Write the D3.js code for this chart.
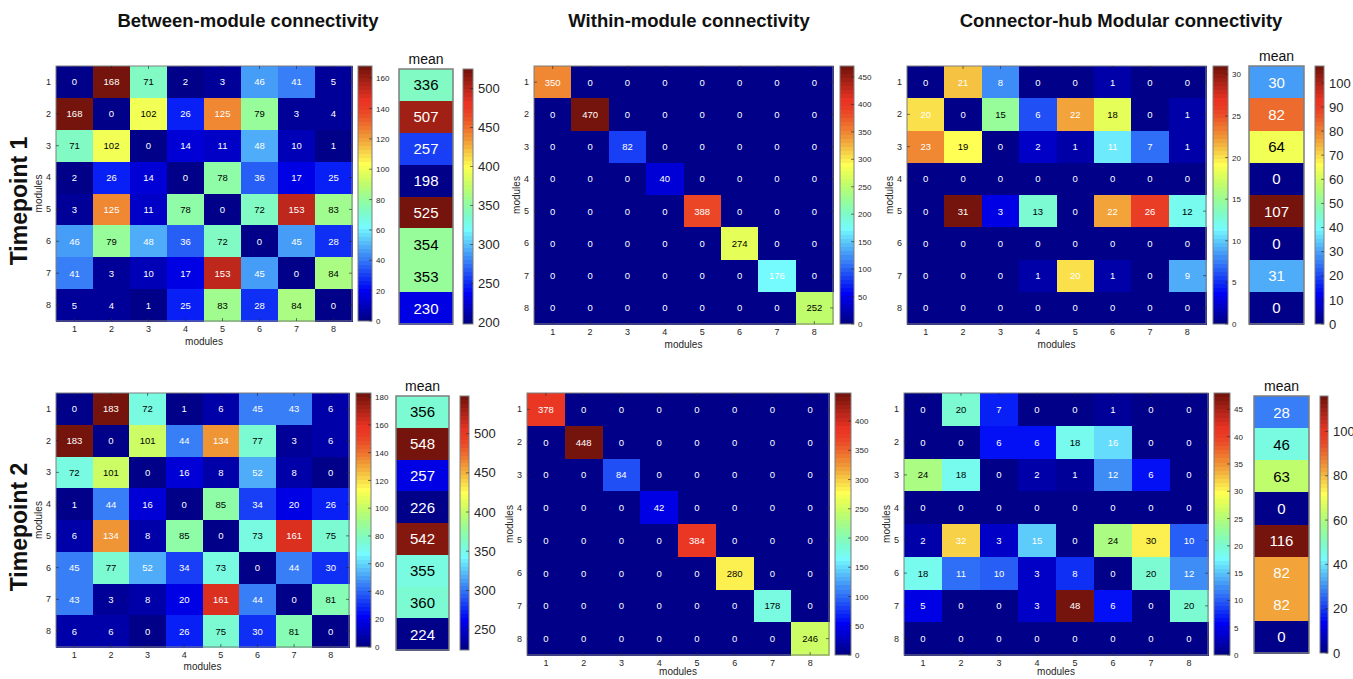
<!DOCTYPE html>
<html><head><meta charset="utf-8">
<script src="https://cdn.jsdelivr.net/npm/d3@7"></script>
<style>
body{margin:0;background:#fff;}
svg{display:block;font-family:"Liberation Sans",Arial,Helvetica,sans-serif;}
</style></head>
<body><svg id="chart" width="1353" height="679"></svg>
<script>
const modules = [1,2,3,4,5,6,7,8];

const betweenT1 = [
  [0,168,71,2,3,46,41,5],
  [168,0,102,26,125,79,3,4],
  [71,102,0,14,11,48,10,1],
  [2,26,14,0,78,36,17,25],
  [3,125,11,78,0,72,153,83],
  [46,79,48,36,72,0,45,28],
  [41,3,10,17,153,45,0,84],
  [5,4,1,25,83,28,84,0]
];
const betweenT2 = [
  [0,183,72,1,6,45,43,6],
  [183,0,101,44,134,77,3,6],
  [72,101,0,16,8,52,8,0],
  [1,44,16,0,85,34,20,26],
  [6,134,8,85,0,73,161,75],
  [45,77,52,34,73,0,44,30],
  [43,3,8,20,161,44,0,81],
  [6,6,0,26,75,30,81,0]
];
const withinDiagT1 = [350,470,82,40,388,274,176,252];
const withinDiagT2 = [378,448,84,42,384,280,178,246];
const connT1 = [
  [0,21,8,0,0,1,0,0],
  [20,0,15,6,22,18,0,1],
  [23,19,0,2,1,11,7,1],
  [0,0,0,0,0,0,0,0],
  [0,31,3,13,0,22,26,12],
  [0,0,0,0,0,0,0,0],
  [0,0,0,1,20,1,0,9],
  [0,0,0,0,0,0,0,0]
];
const connT2 = [
  [0,20,7,0,0,1,0,0],
  [0,0,6,6,18,16,0,0],
  [24,18,0,2,1,12,6,0],
  [0,0,0,0,0,0,0,0],
  [2,32,3,15,0,24,30,10],
  [18,11,10,3,8,0,20,12],
  [5,0,0,3,48,6,0,20],
  [0,0,0,0,0,0,0,0]
];
const meanBetweenT1 = [336,507,257,198,525,354,353,230];
const meanBetweenT2 = [356,548,257,226,542,355,360,224];
const meanConnT1 = [30,82,64,0,107,0,31,0];
const meanConnT2 = [28,46,63,0,116,82,82,0];

const ticksBetweenT1 = [0,20,40,60,80,100,120,140,160];
const ticksBetweenT2 = [0,20,40,60,80,100,120,140,160,180];
const ticksWithinT1 = [0,50,100,150,200,250,300,350,400,450];
const ticksWithinT2 = [0,50,100,150,200,250,300,350,400];
const ticksConnT1 = [0,5,10,15,20,25,30];
const ticksConnT2 = [0,5,10,15,20,25,30,35,40,45];
const ticksMeanBetweenT1 = [200,250,300,350,400,450,500];
const ticksMeanBetweenT2 = [250,300,350,400,450,500];
const ticksMeanConnT1 = [0,10,20,30,40,50,60,70,80,90,100];
const ticksMeanConnT2 = [0,20,40,60,80,100];

const titles = ["Between-module connectivity","Within-module connectivity","Connector-hub Modular connectivity"];
const rowLabels = ["Timepoint 1","Timepoint 2"];

function diagMatrix(d){ return modules.map((m,i)=>modules.map((n,j)=> i===j ? d[i] : 0)); }
const withinT1 = diagMatrix(withinDiagT1);
const withinT2 = diagMatrix(withinDiagT2);

// MATLAB jet(64), shown with the Display-P3 look of the reference image
const jetBase = d3.scaleLinear()
  .domain([0,7/63,23/63,39/63,55/63,1])
  .range(["rgb(0,0,143)","rgb(0,0,255)","rgb(0,255,255)","rgb(255,255,0)","rgb(255,0,0)","rgb(128,0,0)"])
  .clamp(true);
function lin(c){ c/=255; return c<=0.04045 ? c/12.92 : Math.pow((c+0.055)/1.055,2.4); }
function gam(c){ c = Math.max(0,Math.min(1,c)); return 255*(c<=0.0031308 ? 12.92*c : 1.055*Math.pow(c,1/2.4)-0.055); }
function toP3(col){
  const c = d3.rgb(col), r=lin(c.r), g=lin(c.g), b=lin(c.b);
  return d3.rgb(gam(0.8225*r+0.1774*g), gam(0.0332*r+0.9669*g), gam(0.0171*r+0.0724*g+0.9108*b)).formatHex();
}
function jet(t){
  const q = Math.min(63, Math.max(0, Math.floor(t*64)))/63;
  return toP3(jetBase(q));
}

const svg = d3.select("#chart");
const defs = svg.append("defs");
let gradId = 0;
const AX = "#262626", BORDER = "#7f7f7f";

function textColor(t){ return (t >= 0.375 && t <= 0.635) ? "#000" : "#fff"; }

function colorbar(box, domain, ticks, fs){
  const id = "g"+(gradId++);
  const lg = defs.append("linearGradient").attr("id",id).attr("x1",0).attr("y1",1).attr("x2",0).attr("y2",0);
  d3.range(64).forEach(k=>{
    const c = toP3(jetBase(k/63));
    lg.append("stop").attr("offset",k/64).attr("stop-color",c);
    lg.append("stop").attr("offset",(k+1)/64).attr("stop-color",c);
  });
  const g = svg.append("g");
  g.append("rect").attr("x",box.x).attr("y",box.y).attr("width",box.w).attr("height",box.h)
    .attr("fill",`url(#${id})`).attr("stroke",BORDER).attr("stroke-width",1);
  const s = d3.scaleLinear().domain(domain).range([box.y+box.h, box.y]);
  const ax = g.append("g").attr("transform",`translate(${box.x+box.w},0)`)
    .call(d3.axisRight(s).tickValues(ticks).tickSize(0).tickPadding(fs>10?5:4));
  ax.select(".domain").remove();
  ax.selectAll("text").attr("fill",AX).style("font-size",fs+"px");
  g.selectAll(".tk").data(ticks).join("line")
    .attr("x1",box.x+box.w-3).attr("x2",box.x+box.w)
    .attr("y1",d=>s(d)).attr("y2",d=>s(d)).attr("stroke",AX).attr("stroke-width",0.6);
}

function heat(box, M, cbarBox, ticks, xlabOff){
  const x = d3.scaleBand().domain(modules).range([box.x, box.x+box.w]);
  const y = d3.scaleBand().domain(modules).range([box.y, box.y+box.h]);
  const flat = M.flat();
  const lo = d3.min(flat), hi = d3.max(flat);
  const norm = d3.scaleLinear().domain([lo,hi]);
  const g = svg.append("g");
  const cells = [];
  M.forEach((row,i)=>row.forEach((v,j)=>cells.push({r:modules[i],c:modules[j],v})));
  g.selectAll("rect.cell").data(cells).join("rect")
    .attr("x",d=>x(d.c)).attr("y",d=>y(d.r))
    .attr("width",x.bandwidth()+0.6).attr("height",y.bandwidth()+0.6)
    .attr("shape-rendering","crispEdges")
    .attr("fill",d=>jet(norm(d.v)));
  g.selectAll("text.val").data(cells).join("text")
    .attr("x",d=>x(d.c)+x.bandwidth()/2).attr("y",d=>y(d.r)+y.bandwidth()/2)
    .attr("text-anchor","middle").attr("dominant-baseline","central")
    .style("font-size","9.5px").attr("fill",d=>textColor(norm(d.v))).text(d=>d.v);
  g.append("rect").attr("x",box.x).attr("y",box.y).attr("width",box.w).attr("height",box.h)
    .attr("fill","none").attr("stroke",BORDER).attr("stroke-width",1);
  const tl = 3;
  modules.forEach(m=>{
    const cx = x(m)+x.bandwidth()/2, cy = y(m)+y.bandwidth()/2;
    [[cx,box.y,cx,box.y+tl],[cx,box.y+box.h,cx,box.y+box.h-tl],
     [box.x,cy,box.x+tl,cy],[box.x+box.w,cy,box.x+box.w-tl,cy]].forEach(a=>
      g.append("line").attr("x1",a[0]).attr("y1",a[1]).attr("x2",a[2]).attr("y2",a[3])
        .attr("stroke",AX).attr("stroke-width",0.6));
  });
  const ay = g.append("g").attr("transform",`translate(${box.x},0)`).call(d3.axisLeft(y).tickSize(0).tickPadding(5));
  ay.select(".domain").remove();
  ay.selectAll("text").attr("fill",AX).style("font-size","9px");
  const axx = g.append("g").attr("transform",`translate(0,${box.y+box.h})`).call(d3.axisBottom(x).tickSize(0).tickPadding(5));
  axx.select(".domain").remove();
  axx.selectAll("text").attr("fill",AX).style("font-size","9px");
  g.append("text").attr("x",box.x+box.w/2).attr("y",box.y+box.h+xlabOff).attr("text-anchor","middle")
    .attr("fill",AX).style("font-size","10px").text("modules");
  g.append("text").attr("transform",`translate(${box.x-14},${box.y+box.h/2}) rotate(-90)`)
    .attr("text-anchor","middle").attr("fill",AX).style("font-size","10px").text("modules");
  colorbar(cbarBox,[lo,hi],ticks,8);
}

function meanCol(box, vals, cbarBox, ticks){
  const y = d3.scaleBand().domain(modules).range([box.y, box.y+box.h]);
  const lo = d3.min(vals), hi = d3.max(vals);
  const norm = d3.scaleLinear().domain([lo,hi]);
  const g = svg.append("g");
  const data = vals.map((v,i)=>({m:modules[i],v}));
  g.selectAll("rect.m").data(data).join("rect")
    .attr("x",box.x).attr("y",d=>y(d.m)).attr("width",box.w).attr("height",y.bandwidth()+0.6)
    .attr("shape-rendering","crispEdges")
    .attr("fill",d=>jet(norm(d.v)));
  g.selectAll("text.m").data(data).join("text")
    .attr("x",box.x+box.w/2).attr("y",d=>y(d.m)+y.bandwidth()/2)
    .attr("text-anchor","middle").attr("dominant-baseline","central")
    .style("font-size","15px").attr("fill",d=>textColor(norm(d.v))).text(d=>d.v);
  g.append("rect").attr("x",box.x).attr("y",box.y).attr("width",box.w).attr("height",box.h)
    .attr("fill","none").attr("stroke",BORDER).attr("stroke-width",1.5);
  g.append("text").attr("x",box.x+box.w/2).attr("y",box.y-5).attr("text-anchor","middle")
    .attr("fill","#111").style("font-size","14px").text("mean");
  colorbar(cbarBox,[lo,hi],ticks,13);
}

[[248,titles[0]],[689,titles[1]],[1121,titles[2]]].forEach(t=>
  svg.append("text").attr("x",t[0]).attr("y",27).attr("text-anchor","middle")
    .style("font-size","18.5px").style("font-weight","bold").attr("fill","#111").text(t[1]));
[[19,201,rowLabels[0]],[19,527,rowLabels[1]]].forEach(t=>
  svg.append("text").attr("transform",`translate(${t[0]},${t[1]}) rotate(-90)`)
    .attr("text-anchor","middle").attr("dominant-baseline","central")
    .style("font-size","23px").style("font-weight","bold").attr("fill","#111").text(t[2]));

// Timepoint 1
heat({x:56,y:66,w:296,h:255}, betweenT1, {x:358,y:66,w:14,h:255}, ticksBetweenT1, 24);
meanCol({x:399,y:69,w:54,h:255}, meanBetweenT1, {x:463,y:69,w:10,h:255}, ticksMeanBetweenT1);
heat({x:534,y:66,w:299,h:258}, withinT1, {x:840,y:66,w:14,h:258}, ticksWithinT1, 24);
heat({x:907,y:66,w:299,h:258}, connT1, {x:1213,y:66,w:15,h:258}, ticksConnT1, 24);
meanCol({x:1249,y:66,w:55,h:258}, meanConnT1, {x:1315,y:66,w:9,h:258}, ticksMeanConnT1);

// Timepoint 2
heat({x:56,y:393,w:293,h:254}, betweenT2, {x:356,y:393,w:15,h:254}, ticksBetweenT2, 23);
meanCol({x:396,y:396,w:53,h:254}, meanBetweenT2, {x:460,y:396,w:9,h:254}, ticksMeanBetweenT2);
heat({x:527,y:393,w:302,h:262}, withinT2, {x:835,y:393,w:16,h:262}, ticksWithinT2, 20);
heat({x:904,y:393,w:304,h:262}, connT2, {x:1214,y:393,w:16,h:262}, ticksConnT2, 20);
meanCol({x:1254,y:396,w:55,h:257}, meanConnT2, {x:1320,y:396,w:8,h:257}, ticksMeanConnT2);
</script></body></html>
